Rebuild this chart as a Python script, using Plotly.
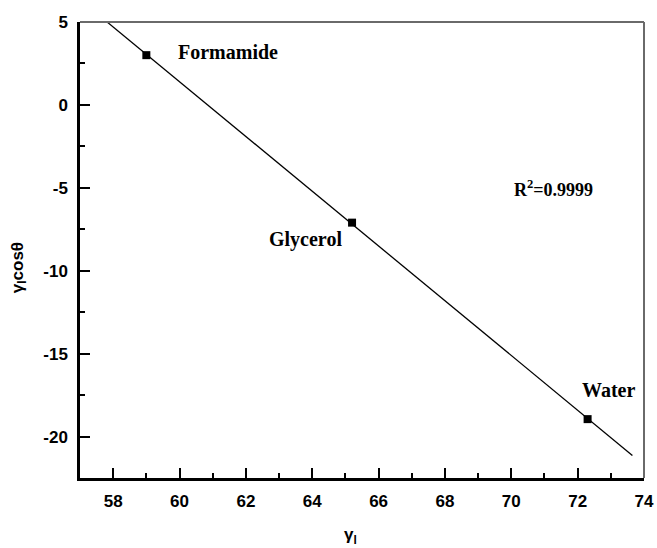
import numpy as np
import plotly.graph_objects as go

# Data
liquids = ["Formamide", "Glycerol", "Water"]
gamma_l = [59.0, 65.2, 72.3]
gamma_cos = [3.0, -7.1, -18.95]
fit_x = [57.8, 73.65]
r2_text = "R<sup>2</sup>=0.9999"
x_title = "γ<sub>l</sub>"
y_title = "γ<sub>l</sub>cosθ"
x_ticks = [58, 60, 62, 64, 66, 68, 70, 72, 74]
y_ticks = [5, 0, -5, -10, -15, -20]

slope, intercept = np.polyfit(gamma_l, gamma_cos, 1)
fit_y = [slope * x + intercept for x in fit_x]

fig = go.Figure()
fig.add_trace(go.Scatter(x=fit_x, y=fit_y, mode="lines",
                         line=dict(color="black", width=1.3), showlegend=False))
fig.add_trace(go.Scatter(x=gamma_l, y=gamma_cos, mode="markers",
                         marker=dict(symbol="square", size=8, color="black"),
                         showlegend=False))

serif = "Times New Roman, Liberation Serif, serif"
sans = "Arial, Liberation Sans, sans-serif"
ann = []
offsets = [(30, 3, "left"), (-8, -17, "right"), (21, 29, "center")]
for name, x, y, (dx, dy, xa) in zip(liquids, gamma_l, gamma_cos, offsets):
    ann.append(dict(x=x, y=y, xref="x", yref="y", text="<b>%s</b>" % name,
                    showarrow=False, xshift=dx, yshift=dy, xanchor=xa, yanchor="middle",
                    font=dict(family=serif, size=20, color="black")))
ann.append(dict(x=0.84, y=0.635, xref="paper", yref="paper", text="<b>%s</b>" % r2_text,
                showarrow=False, xanchor="center", yanchor="middle",
                font=dict(family=serif, size=18, color="black")))
# axis titles
ann.append(dict(x=0.48, y=0, xref="paper", yref="paper", text="<b>%s</b>" % x_title,
                showarrow=False, xanchor="center", yanchor="middle", yshift=-58,
                font=dict(family=sans, size=17, color="black")))
ann.append(dict(x=0, y=0.46, xref="paper", yref="paper", text="<b>%s</b>" % y_title,
                showarrow=False, xanchor="center", yanchor="middle", xshift=-61,
                textangle=-90, font=dict(family=sans, size=17, color="black")))

fig.update_layout(
    width=657, height=548,
    margin=dict(l=80, r=13, t=22, b=70, autoexpand=False),
    paper_bgcolor="white", plot_bgcolor="white",
    annotations=ann,
    shapes=[
        dict(type="line", xref="paper", yref="paper", x0=0, x1=1, y0=1, y1=1,
             line=dict(color="#6a6a6a", width=2)),
        dict(type="line", xref="paper", yref="paper", x0=1, x1=1, y0=0, y1=1,
             line=dict(color="#6a6a6a", width=2)),
    ],
    xaxis=dict(range=[57, 74], tickvals=x_ticks, ticktext=["<b>%d</b>" % v for v in x_ticks],
               ticks="inside", ticklen=10, automargin=False, ticklabelstandoff=6,
               tickwidth=2, tickcolor="black", showline=True, linecolor="black",
               linewidth=2.5, showgrid=False, zeroline=False,
               minor=dict(dtick=1, tick0=57, ticks="inside", ticklen=5, tickwidth=2,
                          tickcolor="black", showgrid=False),
               tickfont=dict(family=sans, size=17, color="black")),
    yaxis=dict(range=[-22.5, 5], tickvals=y_ticks, ticktext=["<b>%d</b>" % v for v in y_ticks],
               ticks="inside", ticklen=10, automargin=False, ticklabelstandoff=6,
               tickwidth=2, tickcolor="black", showline=True, linecolor="black",
               linewidth=2.5, showgrid=False, zeroline=False,
               minor=dict(dtick=2.5, tick0=0, ticks="inside", ticklen=5, tickwidth=2,
                          tickcolor="black", showgrid=False),
               tickfont=dict(family=sans, size=17, color="black")),
)
fig.write_html("out.html", config={"displayModeBar": False},
               post_script="document.body.style.margin='0';document.body.style.overflow='hidden';")
